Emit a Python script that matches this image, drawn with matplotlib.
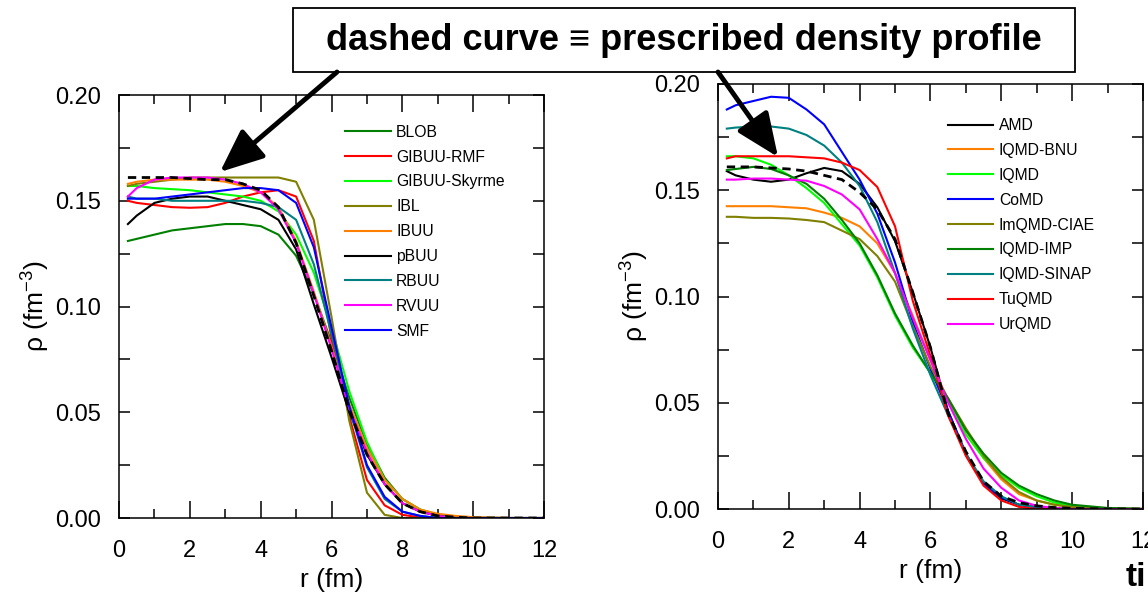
import matplotlib
matplotlib.use("Agg")
import matplotlib.pyplot as plt
from matplotlib.patches import Rectangle, FancyArrowPatch
from matplotlib.ticker import MultipleLocator, FormatStrFormatter

plt.rcParams['font.family'] = ['Liberation Sans', 'DejaVu Sans']
plt.rcParams['mathtext.fontset'] = 'custom'
plt.rcParams['mathtext.rm'] = 'Liberation Sans'
plt.rcParams['mathtext.it'] = 'Liberation Sans:italic'

r = [0.25, 0.5, 1, 1.5, 2, 2.5, 3, 3.5, 4, 4.5, 5, 5.5, 6, 6.5, 7, 7.5, 8, 8.5, 9, 9.5, 10, 11, 12]

# ---- left panel: transport codes (BUU type)
left_names = ["BLOB", "GIBUU-RMF", "GIBUU-Skyrme", "IBL", "IBUU", "pBUU", "RBUU", "RVUU", "SMF"]
left_colors = ["#008000", "#ff0000", "#00ff00", "#808000", "#ff8000", "#000000", "#008080", "#ff00ff", "#0000ff"]
blob = [.131, .132, .134, .136, .137, .138, .139, .139, .138, .134, .124, .106, .083, .057, .035, .019, .009, .004, .0015, .0005, .0002, 0, 0]
gibuu_rmf = [.150, .149, .148, .147, .1467, .147, .149, .152, .154, .155, .152, .131, .085, .048, .018, .006, .0015, .0003, 0, 0, 0, 0, 0]
gibuu_sky = [.157, .157, .156, .1555, .155, .154, .153, .152, .150, .145, .134, .116, .090, .060, .036, .018, .009, .004, .0015, .0005, 0, 0, 0]
ibl = [.157, .158, .159, .160, .161, .161, .161, .161, .161, .161, .159, .141, .095, .046, .012, .0015, 0, 0, 0, 0, 0, 0, 0]
ibuu = [.158, .159, .160, .160, .160, .160, .159, .157, .154, .147, .131, .107, .081, .054, .033, .018, .009, .004, .002, .001, .0004, 0, 0]
pbuu = [.139, .143, .149, .151, .152, .152, .150, .148, .146, .141, .127, .101, .076, .050, .030, .016, .007, .003, .001, 0, 0, 0, 0]
rbuu = [.152, .151, .151, .150, .150, .150, .150, .150, .149, .147, .141, .120, .087, .052, .024, .009, .003, .001, 0, 0, 0, 0, 0]
rvuu = [.152, .156, .160, .161, .161, .161, .160, .158, .154, .146, .130, .106, .080, .052, .031, .016, .007, .003, .001, 0, 0, 0, 0]
smf = [.151, .151, .151, .152, .153, .154, .155, .156, .156, .155, .149, .128, .090, .053, .025, .010, .003, .001, 0, 0, 0, 0, 0]
left_prescribed = [.161, .161, .161, .161, .1605, .160, .160, .158, .155, .147, .130, .105, .079, .051, .030, .016, .007, .003, .001, .0004, 0, 0, 0]
left_values = [blob, gibuu_rmf, gibuu_sky, ibl, ibuu, pbuu, rbuu, rvuu, smf]

# ---- right panel: QMD type codes
right_names = ["AMD", "IQMD-BNU", "IQMD", "CoMD", "ImQMD-CIAE", "IQMD-IMP", "IQMD-SINAP", "TuQMD", "UrQMD"]
right_colors = ["#000000", "#ff8000", "#00ff00", "#0000ff", "#808000", "#008000", "#008080", "#ff0000", "#ff00ff"]
amd = [.159, .157, .155, .154, .155, .158, .1605, .159, .153, .142, .126, .102, .076, .046, .026, .012, .005, .002, .001, .0003, 0, 0, 0]
iqmd_bnu = [.1425, .1425, .1425, .1425, .142, .1415, .1395, .137, .133, .125, .111, .091, .070, .051, .037, .024, .014, .007, .004, .002, .001, .0002, 0]
iqmd = [.166, .166, .165, .162, .157, .151, .144, .134, .124, .109, .091, .076, .064, .051, .035, .024, .016, .010, .006, .003, .0015, .0003, 0]
comd = [.188, .190, .192, .194, .1935, .188, .181, .168, .155, .139, .116, .088, .066, .046, .026, .012, .0055, .002, .0006, .0002, 0, 0, 0]
imqmd_ciae = [.1375, .1375, .137, .137, .1367, .136, .135, .131, .127, .119, .107, .086, .067, .052, .038, .025, .015, .008, .004, .002, .001, .0002, 0]
iqmd_imp = [.1595, .160, .161, .160, .157, .153, .146, .136, .125, .110, .092, .077, .064, .052, .037, .026, .017, .011, .007, .004, .002, .0005, 0]
iqmd_sinap = [.179, .1795, .180, .180, .179, .176, .171, .163, .152, .135, .111, .085, .063, .044, .026, .013, .006, .002, .001, 0, 0, 0, 0]
tuqmd = [.165, .166, .166, .166, .166, .1655, .165, .163, .1595, .1515, .133, .098, .072, .044, .025, .011, .004, .001, 0, 0, 0, 0, 0]
urqmd = [.155, .155, .1555, .1555, .155, .1545, .152, .148, .141, .127, .111, .090, .070, .050, .033, .019, .010, .004, .0015, .0005, 0, 0, 0]
right_prescribed = [.161, .161, .161, .1605, .160, .159, .157, .155, .149, .141, .127, .102, .076, .045, .027, .013, .006, .003, .0015, .0007, .0003, 0, 0]
right_values = [amd, iqmd_bnu, iqmd, comd, imqmd_ciae, iqmd_imp, iqmd_sinap, tuqmd, urqmd]


def style_axes(ax):
    ax.set_xlim(0, 12)
    ax.set_ylim(0, 0.2)
    ax.xaxis.set_major_locator(MultipleLocator(2))
    ax.xaxis.set_minor_locator(MultipleLocator(1))
    ax.yaxis.set_major_locator(MultipleLocator(0.05))
    ax.yaxis.set_minor_locator(MultipleLocator(0.025))
    ax.yaxis.set_major_formatter(FormatStrFormatter('%.2f'))
    ax.tick_params(axis='both', which='both', direction='in', top=True, right=True,
                   labelsize=17, width=1.1)
    ax.tick_params(axis='x', which='major', length=12, pad=16)
    ax.tick_params(axis='x', which='minor', length=6.5)
    ax.tick_params(axis='y', which='major', length=8, pad=13)
    ax.tick_params(axis='y', which='minor', length=8)
    for s in ax.spines.values():
        s.set_linewidth(1.1)
    ax.set_xlabel("r (fm)", fontsize=19, labelpad=4)
    ax.set_ylabel("ρ (fm$^{-3}$)", fontsize=19, labelpad=2)


def draw_panel(ax, names, colors, values, prescribed, leg_anchor):
    for name, col, vals in zip(names, colors, values):
        ax.plot(r, vals, color=col, lw=1.5, label=name)
    ax.plot(r, prescribed, color='black', lw=2, ls=(0, (3, 2)))
    ax.legend(loc='upper left', bbox_to_anchor=leg_anchor, frameon=False, fontsize=11.3,
              handlelength=2.9, handletextpad=0.35, labelspacing=0.63,
              borderpad=0, borderaxespad=0)
    style_axes(ax)


fig = plt.figure(figsize=(11.48, 5.97), dpi=100)
ax1 = fig.add_axes([0.1037, 0.1323, 0.3702, 0.7085])
ax2 = fig.add_axes([0.6254, 0.1474, 0.3702, 0.7119])

draw_panel(ax1, left_names, left_colors, left_values, left_prescribed, (0.532, 0.93))
draw_panel(ax2, right_names, right_colors, right_values, right_prescribed, (0.541, 0.92))

# header box with arrows
W, H = 1148, 597
fig.patches.append(Rectangle((293 / W, 1 - 72 / H), (1075 - 293) / W, (72 - 8) / H,
                             transform=fig.transFigure, fill=False, lw=1.3, ec='black'))
fig.text(684 / W, 1 - 41 / H, "dashed curve \u2261 prescribed density profile",
         ha='center', va='center', fontsize=26, fontweight='bold')
arrow = dict(arrowstyle='-|>,head_length=1.4,head_width=0.6', lw=3.5, color='black',
             shrinkA=0, shrinkB=0, mutation_scale=19, transform=fig.transFigure)
fig.add_artist(FancyArrowPatch((337 / W, 1 - 72 / H), (220 / W, 1 - 172 / H), **arrow))
fig.add_artist(FancyArrowPatch((718 / W, 1 - 72 / H), (778 / W, 1 - 157 / H), **arrow))

fig.text(1126 / W, 1 - 577 / H, "ti", ha='left', va='center', fontsize=24, fontweight='bold')

fig.savefig("out.png", dpi=100)
